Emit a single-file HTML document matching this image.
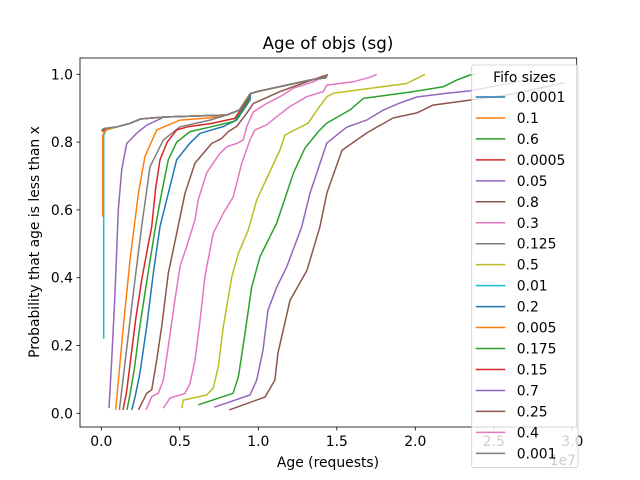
<!DOCTYPE html>
<html><head><meta charset="utf-8"><style>
body{margin:0;background:#fff}
svg{display:block;font-family:"DejaVu Sans","Liberation Sans",sans-serif}
</style></head><body>
<svg id="chart" width="640" height="480" viewBox="0 0 640 480">
<defs><clipPath id="clip"><rect x="80" y="58" width="496.7" height="369"/></clipPath></defs>
<rect x="0" y="0" width="640" height="480" fill="#fff"/>
<text x="328" y="49" text-anchor="middle" font-size="16.7">Age of objs (sg)</text>
<text x="328" y="467" text-anchor="middle" font-size="13.9">Age (requests)</text>
<text x="576" y="465" text-anchor="end" font-size="13.9" fill="#000">1e7</text>
<text transform="translate(39,242) rotate(-90)" text-anchor="middle" font-size="13.9">Probability that age is less than x</text>
<g id="ticks"></g>
<g id="lines" clip-path="url(#clip)"></g>
<rect x="80" y="58" width="496.7" height="369" fill="none" stroke="#000" stroke-width="0.8"/>
<g id="legend"></g>
</svg>
<script>
const seriesNames = ["0.0001","0.1","0.6","0.0005","0.05","0.8","0.3","0.125","0.5","0.01","0.2","0.005","0.175","0.15","0.7","0.25","0.4","0.001"];
const seriesColors = ["#1f77b4","#ff7f0e","#2ca02c","#d62728","#9467bd","#8c564b","#e377c2","#7f7f7f","#bcbd22","#17becf","#1f77b4","#ff7f0e","#2ca02c","#d62728","#9467bd","#8c564b","#e377c2","#7f7f7f"];
const xTicks = [0,0.5,1.0,1.5,2.0,2.5,3.0];
const xTickLabels = ["0.0","0.5","1.0","1.5","2.0","2.5","3.0"];
const yTicks = [0,0.2,0.4,0.6,0.8,1.0];
const yTickLabels = ["0.0","0.2","0.4","0.6","0.8","1.0"];
const tailX = [0.1,0.18,0.25,0.4,0.6,0.8,0.88,0.95,1.0,1.2,1.35,1.43,1.44];
const tailY = [0.845,0.855,0.868,0.874,0.877,0.88,0.895,0.943,0.95,0.97,0.985,0.99,1.0];
const x0001 = [0.003,0.02]; const y0001 = [0.834,0.838];
const x1 = [0.092,0.14,0.183,0.236,0.278,0.353,0.501,0.7]; const y1 = [0.01,0.255,0.452,0.649,0.757,0.836,0.865,0.872];
const x6 = [0.618,0.839,0.873,0.915,0.958,1.011,1.117,1.181,1.223,1.297,1.382,1.436,1.584,1.669,1.987,2.178,2.264,2.348,2.38]; const y6 = [0.025,0.059,0.108,0.236,0.373,0.462,0.561,0.649,0.708,0.782,0.831,0.856,0.895,0.929,0.949,0.963,0.983,0.998,1.0];
const x0005 = [0.004,0.03]; const y0005 = [0.832,0.837];
const x05 = [0.049,0.066,0.087,0.108,0.13,0.162,0.225,0.289]; const y05 = [0.015,0.157,0.354,0.6,0.718,0.796,0.826,0.85];
const x8 = [0.815,1.043,1.106,1.125,1.202,1.31,1.392,1.437,1.533,1.692,1.743,1.858,2.01,2.113,2.348,2.6,2.95]; const y8 = [0.01,0.048,0.098,0.177,0.333,0.422,0.549,0.65,0.776,0.827,0.841,0.871,0.886,0.909,0.924,0.94,0.975];
const x3 = [0.285,0.321,0.363,0.395,0.427,0.469,0.501,0.544,0.597,0.618,0.671,0.713,0.756,0.799,0.862,0.904,0.926,0.968,1.053,1.138,1.223,1.35,1.436]; const y3 = [0.01,0.049,0.059,0.098,0.197,0.334,0.433,0.492,0.571,0.63,0.709,0.738,0.767,0.786,0.796,0.806,0.845,0.889,0.914,0.934,0.959,0.978,0.998];
const x125 = [0.115,0.204,0.257,0.31,0.395,0.501,0.692]; const y125 = [0.01,0.354,0.55,0.727,0.806,0.845,0.865];
const x5 = [0.512,0.522,0.671,0.713,0.745,0.777,0.831,0.873,0.936,0.99,1.064,1.138,1.17,1.318,1.382,1.436,1.478,1.945,2.062]; const y5 = [0.015,0.039,0.054,0.074,0.138,0.256,0.403,0.472,0.541,0.629,0.703,0.777,0.821,0.856,0.9,0.934,0.944,0.973,1.0];
const x01 = [0.015,0.015,0.03]; const y01 = [0.22,0.82,0.835];
const x2 = [0.194,0.215,0.246,0.289,0.331,0.374,0.427,0.48,0.565,0.629,0.777,0.862,0.947]; const y2 = [0.01,0.049,0.118,0.256,0.413,0.551,0.649,0.748,0.797,0.826,0.846,0.865,0.924];
const x005 = [0.009,0.009,0.025]; const y005 = [0.58,0.82,0.835];
const x175 = [0.164,0.185,0.21,0.245,0.3,0.345,0.38,0.427,0.48,0.565,0.7,0.85,0.94]; const y175 = [0.01,0.06,0.13,0.256,0.42,0.55,0.64,0.748,0.8,0.831,0.845,0.862,0.925];
const x15 = [0.138,0.16,0.185,0.22,0.26,0.3,0.321,0.345,0.374,0.42,0.48,0.55,0.7,0.85,0.94]; const y15 = [0.01,0.06,0.15,0.28,0.4,0.5,0.55,0.66,0.748,0.8,0.836,0.845,0.855,0.87,0.932];
const x7 = [0.72,0.947,0.99,1.03,1.062,1.117,1.18,1.276,1.329,1.372,1.436,1.563,1.69,1.795,1.9,2.01,2.2,2.348,2.89]; const y7 = [0.018,0.054,0.098,0.186,0.304,0.372,0.431,0.549,0.649,0.708,0.797,0.844,0.865,0.894,0.915,0.933,0.944,0.951,0.999];
const x25 = [0.236,0.289,0.321,0.353,0.385,0.427,0.48,0.533,0.597,0.65,0.703,0.767,0.809,0.862,0.926,0.968,1.138,1.308,1.436]; const y25 = [0.01,0.059,0.069,0.157,0.256,0.413,0.531,0.649,0.738,0.767,0.796,0.811,0.831,0.846,0.885,0.914,0.949,0.978,0.998];
const x4 = [0.395,0.438,0.501,0.533,0.565,0.597,0.629,0.66,0.713,0.777,0.841,0.894,0.947,0.979,1.053,1.117,1.202,1.308,1.414,1.436,1.605,1.722,1.754]; const y4 = [0.015,0.045,0.054,0.059,0.088,0.157,0.275,0.403,0.531,0.59,0.639,0.737,0.807,0.836,0.851,0.875,0.905,0.934,0.949,0.968,0.978,0.993,1.0];
const x001 = [0.002,0.015]; const y001 = [0.835,0.84];

const heads = [[x0001,y0001,1],[x1,y1,1],[x6,y6,0],[x0005,y0005,1],[x05,y05,1],[x8,y8,0],[x3,y3,0],[x125,y125,1],[x5,y5,0],[x01,y01,1],[x2,y2,1],[x005,y005,1],[x175,y175,1],[x15,y15,1],[x7,y7,0],[x25,y25,0],[x4,y4,0],[x001,y001,1]];

const NS = "http://www.w3.org/2000/svg";
function sx(v){return 101.3 + v*157;}
function sy(v){return 413.3 - v*339;}

const ticks = document.getElementById('ticks');
xTicks.forEach((t,i)=>{
  const l=document.createElementNS(NS,'line');
  l.setAttribute('x1',sx(t));l.setAttribute('x2',sx(t));l.setAttribute('y1',427);l.setAttribute('y2',430.5);
  l.setAttribute('stroke','#000');l.setAttribute('stroke-width','0.8');
  
  
  ticks.appendChild(l);
  const tx=document.createElementNS(NS,'text');
  tx.setAttribute('x',sx(t));tx.setAttribute('y',446);tx.setAttribute('text-anchor','middle');tx.setAttribute('font-size','13.9');
  tx.textContent=xTickLabels[i];
  
  
  ticks.appendChild(tx);
});
yTicks.forEach((t,i)=>{
  const l=document.createElementNS(NS,'line');
  l.setAttribute('x1',76.5);l.setAttribute('x2',80);l.setAttribute('y1',sy(t));l.setAttribute('y2',sy(t));
  l.setAttribute('stroke','#000');l.setAttribute('stroke-width','0.8');
  
  
  ticks.appendChild(l);
  const tx=document.createElementNS(NS,'text');
  tx.setAttribute('x',73);tx.setAttribute('y',sy(t)+5);tx.setAttribute('text-anchor','end');tx.setAttribute('font-size','13.9');
  tx.textContent=yTickLabels[i];
  
  
  ticks.appendChild(tx);
});

const lines = document.getElementById('lines');
heads.forEach((h,i)=>{
  let xs=h[0].slice(), ys=h[1].slice();
  if(h[2]){
    const last=xs[xs.length-1];
    tailX.forEach((tx,k)=>{ if(tx>last){xs.push(tx);ys.push(tailY[k]);} });
  }
  const d=xs.map((x,k)=>(k?'L':'M')+sx(x).toFixed(1)+','+sy(ys[k]).toFixed(1)).join(' ');
  const p=document.createElementNS(NS,'path');
  p.setAttribute('d',d);p.setAttribute('fill','none');p.setAttribute('stroke',seriesColors[i]);
  p.setAttribute('stroke-width','1.5');p.setAttribute('stroke-linejoin','round');
  
  
  lines.appendChild(p);
});

const lg = document.getElementById('legend');
const box=document.createElementNS(NS,'rect');
box.setAttribute('x',471.7);box.setAttribute('y',65);box.setAttribute('width',106.3);box.setAttribute('height',402.5);
box.setAttribute('rx',2);box.setAttribute('fill','#fff');box.setAttribute('fill-opacity','0.8');box.setAttribute('stroke','#ccc');box.setAttribute('stroke-width','0.8');


lg.appendChild(box);
const tt=document.createElementNS(NS,'text');
tt.setAttribute('x',524.5);tt.setAttribute('y',82);tt.setAttribute('text-anchor','middle');tt.setAttribute('font-size','13.9');
tt.textContent='Fifo sizes';


lg.appendChild(tt);
seriesNames.forEach((n,i)=>{
  const y=97+i*20.96;
  const l=document.createElementNS(NS,'line');
  l.setAttribute('x1',475.7);l.setAttribute('x2',505.3);l.setAttribute('y1',y);l.setAttribute('y2',y);
  l.setAttribute('stroke',seriesColors[i]);l.setAttribute('stroke-width','1.5');
  
  
  lg.appendChild(l);
  const t=document.createElementNS(NS,'text');
  t.setAttribute('x',516.7);t.setAttribute('y',y+5);t.setAttribute('font-size','13.9');
  t.textContent=n;
  
  
  lg.appendChild(t);
});
</script>
</body></html>
